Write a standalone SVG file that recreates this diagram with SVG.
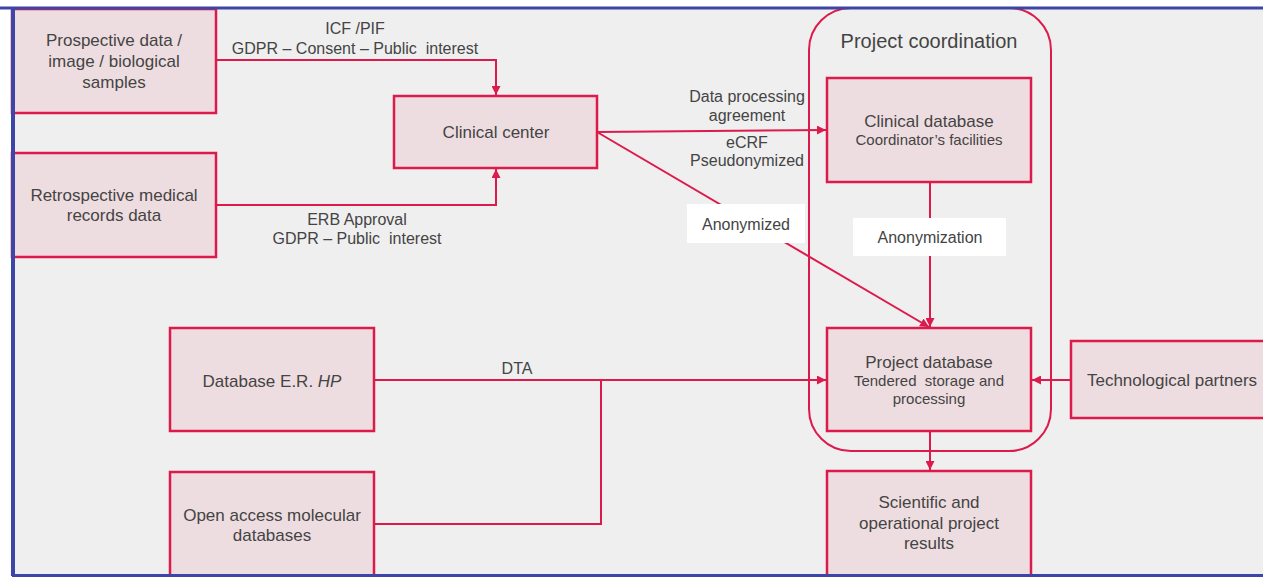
<svg xmlns="http://www.w3.org/2000/svg" width="1263" height="577" viewBox="0 0 1263 577">
<defs>
<marker id="ah" viewBox="0 0 10 10" refX="10" refY="5" markerWidth="9" markerHeight="9" markerUnits="userSpaceOnUse" orient="auto">
<path d="M0,0 L10,5 L0,10 z" fill="#dc1a4c"/>
</marker>
<style>
.bx{fill:#eedde0;stroke:#dc1a4c;stroke-width:2.5}
.ln{fill:none;stroke:#dc1a4c;stroke-width:2}
.t{font-family:"Liberation Sans",Arial,sans-serif;font-size:17px;fill:#444;text-anchor:middle;white-space:pre}
.s{font-size:15px}
.lb{fill:#ffffff}
</style>
</defs>
<rect x="0" y="0" width="1263" height="577" fill="#ffffff"/>
<rect x="12" y="9" width="1260" height="566" fill="#efefef"/>
<g id="coordination">
<rect x="809" y="8" width="242" height="443" rx="42" ry="42" class="ln"/>
<text x="929" y="48" class="t" style="font-size:20px">Project coordination</text>
</g>
<g id="connectors">
<polyline points="216,60 496,60 496,95" class="ln" marker-end="url(#ah)"/>
<polyline points="216,205 496,205 496,169" class="ln" marker-end="url(#ah)"/>
<line x1="597" y1="132" x2="826" y2="130" class="ln" marker-end="url(#ah)"/>
<line x1="597" y1="132" x2="929" y2="327" class="ln" marker-end="url(#ah)"/>
<line x1="930" y1="182" x2="930" y2="327" class="ln" marker-end="url(#ah)"/>
<line x1="374" y1="380" x2="826" y2="380" class="ln" marker-end="url(#ah)"/>
<polyline points="374,524 601,524 601,380" class="ln"/>
<line x1="1071" y1="380" x2="1032" y2="380" class="ln" marker-end="url(#ah)"/>
<line x1="930" y1="431" x2="930" y2="470" class="ln" marker-end="url(#ah)"/>
<text x="355" y="34" class="t" style="font-size:16px">ICF /PIF</text>
<text x="355" y="54" class="t" style="font-size:16px" xml:space="preserve">GDPR – Consent – Public  interest</text>
<text x="357" y="225" class="t" style="font-size:16px">ERB Approval</text>
<text x="357" y="244" class="t" style="font-size:16px" xml:space="preserve">GDPR – Public  interest</text>
<text x="747" y="102" class="t" style="font-size:16px">Data processing</text>
<text x="747" y="121" class="t" style="font-size:16px">agreement</text>
<text x="747" y="148" class="t" style="font-size:16px">eCRF</text>
<text x="747" y="166" class="t" style="font-size:16px">Pseudonymized</text>
<text x="517" y="374" class="t" style="font-size:16px">DTA</text>
<g id="label-anonymized">
<rect x="687" y="204" width="118" height="39" class="lb"/>
<text x="746" y="230" class="t" style="font-size:16px">Anonymized</text>
</g>
<g id="label-anonymization">
<rect x="853" y="218" width="153" height="38" class="lb"/>
<text x="930" y="243" class="t" style="font-size:16px">Anonymization</text>
</g>
</g>
<g id="prospective">
<rect x="12" y="9" width="204" height="104" class="bx"/>
<text x="114" y="46" class="t">Prospective data /</text>
<text x="114" y="67" class="t">image / biological</text>
<text x="114" y="88" class="t">samples</text>
</g>
<g id="retrospective">
<rect x="12" y="153" width="204" height="104" class="bx"/>
<text x="114" y="201" class="t">Retrospective medical</text>
<text x="114" y="221" class="t">records data</text>
</g>
<g id="clinical-center">
<rect x="394" y="96" width="203" height="72" class="bx"/>
<text x="496" y="138" class="t">Clinical center</text>
</g>
<g id="clinical-database">
<rect x="827" y="78" width="204" height="104" class="bx"/>
<text x="929" y="127" class="t">Clinical database</text>
<text x="929" y="145" class="t s">Coordinator’s facilities</text>
</g>
<g id="project-database">
<rect x="827" y="328" width="204" height="103" class="bx"/>
<text x="929" y="368" class="t">Project database</text>
<text x="929" y="386" class="t s" xml:space="preserve">Tendered  storage and</text>
<text x="929" y="404" class="t s">processing</text>
</g>
<g id="tech-partners">
<rect x="1071" y="341" width="200" height="77" class="bx"/>
<text x="1172" y="386" class="t">Technological partners</text>
</g>
<g id="results">
<rect x="827" y="471" width="204" height="110" class="bx"/>
<text x="929" y="508" class="t">Scientific and</text>
<text x="929" y="529" class="t">operational project</text>
<text x="929" y="549" class="t">results</text>
</g>
<g id="database-er">
<rect x="170" y="328" width="204" height="103" class="bx"/>
<text x="272" y="387" class="t">Database E.R. <tspan font-style="italic">HP</tspan></text>
</g>
<g id="open-access">
<rect x="170" y="472" width="204" height="110" class="bx"/>
<text x="272" y="521" class="t">Open access molecular</text>
<text x="272" y="541" class="t">databases</text>
</g>
<g id="frame">
<line x1="0" y1="8" x2="1263" y2="8" stroke="#3d46a8" stroke-width="3"/>
<line x1="13" y1="8" x2="13" y2="576" stroke="#3d46a8" stroke-width="4"/>
<line x1="12" y1="575.5" x2="1263" y2="575.5" stroke="#3d46a8" stroke-width="3"/>
</g>
</svg>
